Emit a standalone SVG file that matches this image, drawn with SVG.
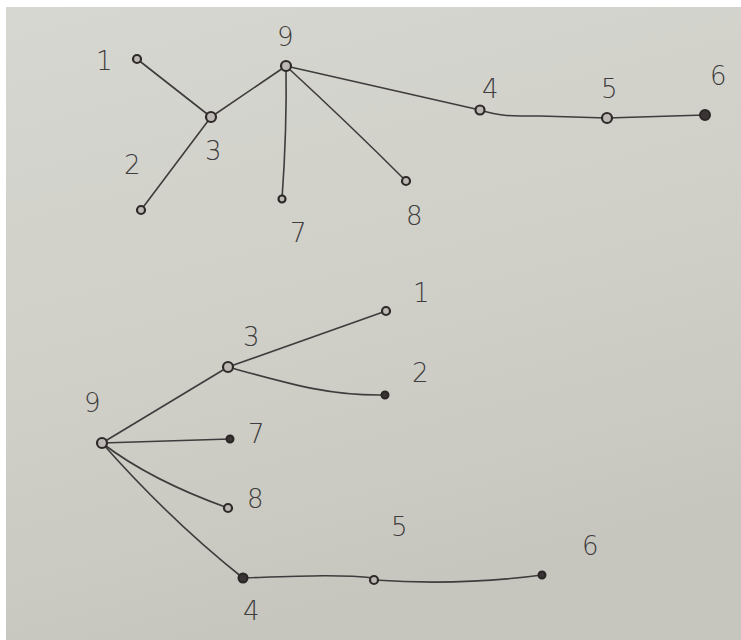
<svg xmlns="http://www.w3.org/2000/svg" width="741" height="640" viewBox="0 0 741 640">
<defs>
<linearGradient id="paper" x1="0" y1="0" x2="0.3" y2="1">
<stop offset="0" stop-color="#d7d7d1"/>
<stop offset="0.6" stop-color="#cfcfc8"/>
<stop offset="1" stop-color="#c7c6be"/>
</linearGradient>
<style>
.e{fill:none;stroke:#3e3c3c;stroke-width:1.6;stroke-linecap:round}
.n{fill:#bdb8b4;stroke:#2e2a2a;stroke-width:2.2}
.d{fill:#3a3434;stroke:#2a2626;stroke-width:2}
.t{font-family:"DejaVu Sans","Liberation Sans",sans-serif;font-size:26px;font-weight:300;fill:#3e3c3c}
</style>
</defs>
<rect width="741" height="640" fill="#ffffff"/>
<rect x="6" y="7" width="735" height="633" fill="url(#paper)"/>
<g id="connectors">
<path class="e" d="M137,59 L211,117"/>
<path class="e" d="M211,117 L141,210"/>
<path class="e" d="M211,117 L286,66"/>
<path class="e" d="M286,66 Q287,130 282,199"/>
<path class="e" d="M286,66 Q350,125 406,181"/>
<path class="e" d="M286,66 L480,110"/>
<path class="e" d="M480,110 C500,116 505,116 540,116 L607,118"/>
<path class="e" d="M607,118 L705,115"/>
<path class="e" d="M102,443 L228,367"/>
<path class="e" d="M228,367 L386,311"/>
<path class="e" d="M228,367 C290,384 330,396 385,395"/>
<path class="e" d="M102,443 L230,439"/>
<path class="e" d="M102,443 Q150,480 228,508"/>
<path class="e" d="M102,443 Q170,520 243,578"/>
<path class="e" d="M243,578 C300,576 340,574 374,578"/>
<path class="e" d="M374,580 Q460,586 542,575"/>
</g>
<g id="top-1"><circle class="n" cx="137" cy="59" r="4"/><text class="t" x="96" y="70">1</text></g>
<g id="top-2"><circle class="n" cx="141" cy="210" r="4"/><text class="t" x="124" y="174">2</text></g>
<g id="top-3"><circle class="n" cx="211" cy="117" r="5"/><text class="t" x="205" y="160">3</text></g>
<g id="top-9"><circle class="n" cx="286" cy="66" r="5"/><text class="t" x="277" y="46">9</text></g>
<g id="top-7"><circle class="n" cx="282" cy="199" r="3.5"/><text class="t" x="290" y="242">7</text></g>
<g id="top-8"><circle class="n" cx="406" cy="181" r="4"/><text class="t" x="406" y="225">8</text></g>
<g id="top-4"><circle class="n" cx="480" cy="110" r="4.5"/><text class="t" x="482" y="98">4</text></g>
<g id="top-5"><circle class="n" cx="607" cy="118" r="5"/><text class="t" x="601" y="98">5</text></g>
<g id="top-6"><circle class="d" cx="705" cy="115" r="5"/><text class="t" x="710" y="85">6</text></g>
<g id="bot-9"><circle class="n" cx="102" cy="443" r="5"/><text class="t" x="84" y="412">9</text></g>
<g id="bot-3"><circle class="n" cx="228" cy="367" r="5"/><text class="t" x="243" y="346">3</text></g>
<g id="bot-1"><circle class="n" cx="386" cy="311" r="4"/><text class="t" x="413" y="302">1</text></g>
<g id="bot-2"><circle class="d" cx="385" cy="395" r="3.5"/><text class="t" x="412" y="382">2</text></g>
<g id="bot-7"><circle class="d" cx="230" cy="439" r="3.5"/><text class="t" x="248" y="443">7</text></g>
<g id="bot-8"><circle class="n" cx="228" cy="508" r="4"/><text class="t" x="247" y="508">8</text></g>
<g id="bot-4"><circle class="d" cx="243" cy="578" r="4.5"/><text class="t" x="243" y="620">4</text></g>
<g id="bot-5"><circle class="n" cx="374" cy="580" r="4"/><text class="t" x="391" y="536">5</text></g>
<g id="bot-6"><circle class="d" cx="542" cy="575" r="3.5"/><text class="t" x="582" y="555">6</text></g>
</svg>
